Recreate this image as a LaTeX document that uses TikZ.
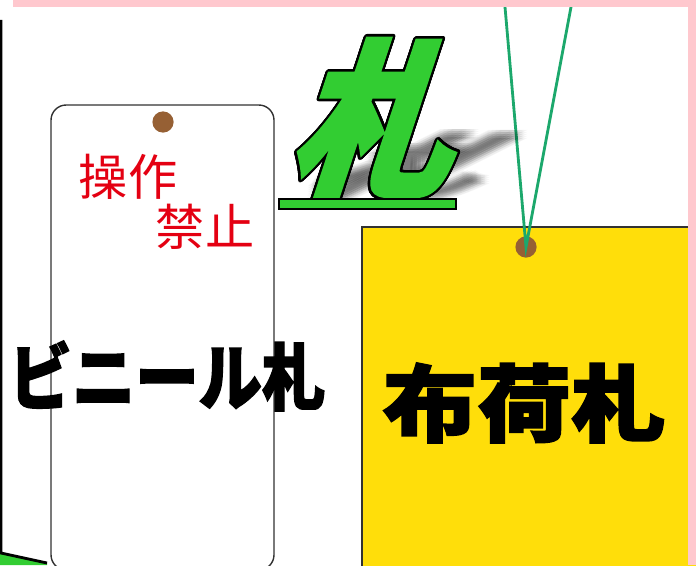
\documentclass[tikz,border=0pt]{standalone}
\usepackage{fontspec}
\usepackage{contour}
\newfontfamily\cjk{Noto Sans CJK JP}
\newfontfamily\cjkheavy{Noto Sans CJK JP}[BoldFeatures={FakeBold=2}]
\contourlength{1.8pt}
\contournumber{24}

\definecolor{pinkframe}{RGB}{255,200,206}
\definecolor{holebrown}{RGB}{150,96,52}
\definecolor{tagyellow}{RGB}{255,222,10}
\definecolor{tagedge}{RGB}{50,50,50}
\definecolor{stringgreen}{RGB}{28,168,108}
\definecolor{kanjigreen}{RGB}{50,205,50}
\definecolor{warnred}{RGB}{228,0,18}

\begin{document}
\begin{tikzpicture}[x = 0.025cm, y = -0.025cm,
	tagline/.style = {draw = tagedge, line width = 1pt},
	hole/.style = {circle, fill = holebrown, inner sep = 0pt, minimum size = 0.53cm},
	string/.style = {stringgreen, line width = 2pt},
	label/.style = {inner sep = 0pt},
	warning/.style = {label, text = warnred, font = \cjk\fontsize{35}{35}\selectfont}]

	\useasboundingbox (0, 0) rectangle (696, 565);
	\clip (0, 0) rectangle (696, 565);

	% Edge of the neighbouring picture
	
	\fill [kanjigreen] (0, 553) -- (47, 563) -- (47, 565) -- (0, 565) -- cycle;
	\draw [line width = 2pt] (1, 20) -- (1, 553) -- (47, 563);

	% Vinyl tag
	
	\draw [tagline, fill = white, rounded corners = 0.38cm] (51, 105) rectangle (274, 570);
	\node [hole] (vinylhole) at (163, 122) {};
	
	\node [warning] (sousa) at (128, 177) {操作};
	\node [warning] (kinshi) at (205, 227) {禁止};
	
	\node [label, yscale = 1.15, transform shape, font = \cjkheavy\bfseries\fontsize{45}{45}\selectfont] (vinyl) at (167, 376) {ビニール札};

	% Cloth tag with its string
	
	\draw [tagline, line width = 1.4pt, fill = tagyellow] (362, 227) rectangle (700, 570);
	\node [hole] (clothhole) at (526, 247) {};
	
	\coordinate (knotleft) at (505, 7);
	\coordinate (knotright) at (571, 7);
	\draw [string] (knotleft) -- (clothhole.center) -- (knotright);
	
	\node [label, xscale = 1.03, yscale = 0.92, transform shape, font = \cjkheavy\bfseries\fontsize{65}{65}\selectfont] (cloth) at (524, 403) {布荷札};

	% Title kanji, its shadow and its bar
	
	\begin{scope}[shift = {(364, 199)}]
		\foreach \dx in {-6, -2, 2, 6}
			\foreach \dy in {-4, -2, 0, 2, 4}
				\node [label, anchor = south, opacity = 0.035, xslant = 2, xscale = 0.95, yscale = 0.4, transform shape,
					font = \cjkheavy\bfseries\fontsize{122}{122}\selectfont] (shadow\dx\dy) at (\dx, \dy) {札};
	\end{scope}
	
	\begin{scope}[shift = {(388, 121)}]
		\node [label, xslant = 0.33, xscale = 0.95, transform shape,
			font = \cjkheavy\bfseries\fontsize{122}{122}\selectfont] (fuda) {\contour{black}{\textcolor{kanjigreen}{札}}};
	\end{scope}
	
	\draw [fill = kanjigreen, line width = 1pt] (279, 199) rectangle (456, 209);

	% Pink frame
	
	\fill [pinkframe] (13, 0) rectangle (696, 7);
	\fill [pinkframe] (688, 0) rectangle (696, 565);

\end{tikzpicture}
\end{document}
